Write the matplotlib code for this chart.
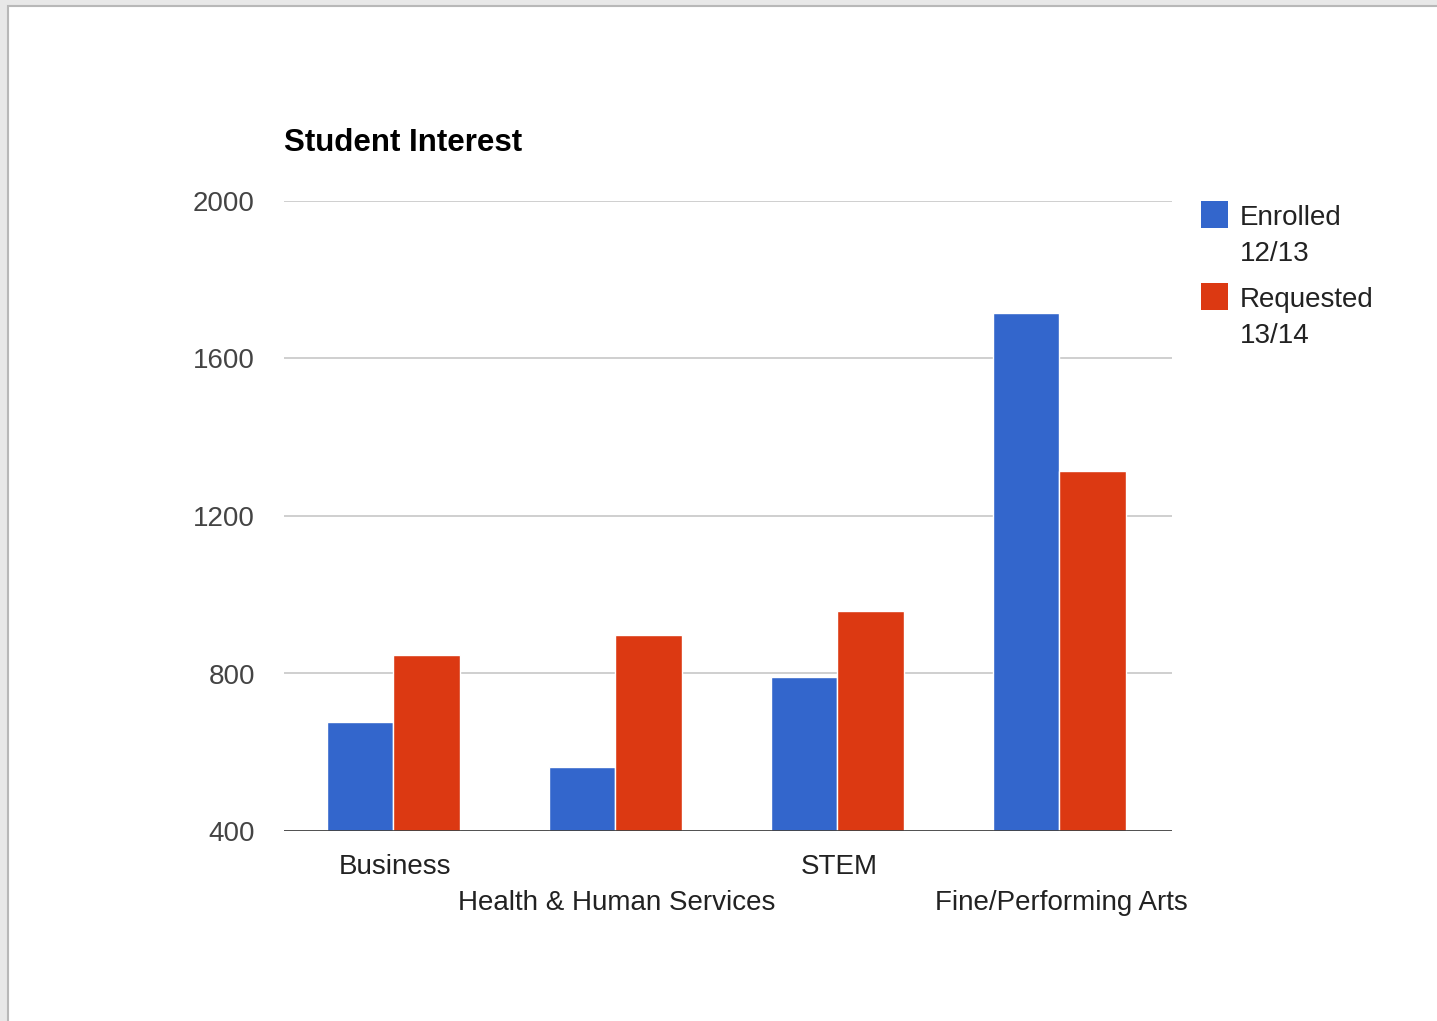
import numpy as np
import matplotlib.pyplot as plt
from matplotlib.patches import Rectangle

plt.rcParams['font.family'] = ['Liberation Sans', 'DejaVu Sans']

# data
categories = ['Business', 'Health & Human Services', 'STEM', 'Fine/Performing Arts']
enrolled = [677, 562, 791, 1716]
requested = [847, 898, 959, 1314]
series_names = ['Enrolled\n12/13', 'Requested\n13/14']
series_colors = ['#3366cc', '#dc3912']
yticks = [400, 800, 1200, 1600, 2000]

W, H = 1437, 1021
fig = plt.figure(figsize=(W / 100, H / 100), dpi=100, facecolor='#e8e8e8')

# white page with a grey border, like the screenshot
fig.patches.append(Rectangle((8 / W, -0.01), 1.0, 1 - 6 / H + 0.01, transform=fig.transFigure,
                             facecolor='white', edgecolor='#b8b8b8', linewidth=1.5, zorder=-5))

ax = fig.add_axes([284 / W, 1 - 831 / H, (1172 - 284) / W, (831 - 201) / H])
ax.set_facecolor('none')

x = np.arange(len(categories)) - 0.008
bw = 0.3
for vals, off, col in [(enrolled, -bw / 2, series_colors[0]), (requested, bw / 2, series_colors[1])]:
    ax.bar(x + off, vals, width=bw, color=col, edgecolor='white', linewidth=1, zorder=3)

ax.set_xlim(-0.5, len(categories) - 0.5)
ax.set_ylim(400, 2000)
ax.set_yticks(yticks)
ax.set_yticklabels([str(t) for t in yticks])
ax.grid(axis='y', color='#cccccc', linewidth=1.3, zorder=0)
ax.axhline(400, color='#444444', linewidth=2, zorder=4)

for s in ax.spines.values():
    s.set_visible(False)

ax.tick_params(axis='y', length=0, pad=21, labelsize=20, labelcolor='#444444')
ax.tick_params(axis='x', length=0, labelsize=20, labelcolor='#222222')
ax.set_xticks(np.arange(len(categories)))
ax.set_xticklabels(categories)
# staggered category labels
for i, tick in enumerate(ax.xaxis.get_major_ticks()):
    tick.set_pad(16.5 if i % 2 == 0 else 42.5)

fig.text(284 / W, 1 - 151 / H, 'Student Interest', fontsize=22.5, fontweight='bold',
         color='black', va='baseline', ha='left')

# legend drawn by hand so the square lines up with the first text line
for k, (name, col) in enumerate(zip(series_names, series_colors)):
    top = 201 + k * 82
    fig.patches.append(Rectangle((1201 / W, 1 - (top + 27) / H), 27 / W, 27 / H,
                                 transform=fig.transFigure, facecolor=col, edgecolor='none'))
    for j, line in enumerate(name.split('\n')):
        fig.text(1240 / W, 1 - (top + 24 + 36 * j) / H, line, fontsize=20, color='#222222',
                 va='baseline', ha='left')

fig.savefig('out.png', dpi=100, facecolor=fig.get_facecolor())
